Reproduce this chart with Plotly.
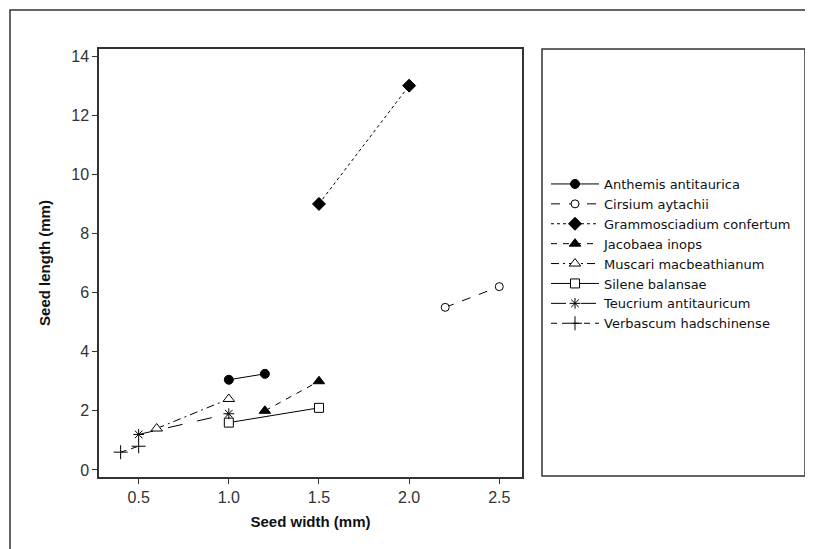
import plotly.graph_objects as go

species = ["Anthemis antitaurica", "Cirsium aytachii", "Grammosciadium confertum",
           "Jacobaea inops", "Muscari macbeathianum", "Silene balansae",
           "Teucrium antitauricum", "Verbascum hadschinense"]
widths = [[1.0, 1.2], [2.2, 2.5], [1.5, 2.0], [1.2, 1.5],
          [0.6, 1.0], [1.0, 1.5], [0.5, 1.0], [0.4, 0.5]]
lengths = [[3.05, 3.25], [5.5, 6.2], [9.0, 13.0], [2.0, 3.0],
           [1.4, 2.4], [1.6, 2.1], [1.2, 1.9], [0.6, 0.8]]
x_ticks = [0.5, 1.0, 1.5, 2.0, 2.5]
x_tick_labels = ["0.5", "1.0", "1.5", "2.0", "2.5"]
y_ticks = [0, 2, 4, 6, 8, 10, 12, 14]

symbols = ["circle", "circle", "diamond", "triangle-up", "triangle-up",
           "square", "asterisk-open", "cross-thin-open"]
fills = ["black", "white", "black", "black", "white", "white", "black", "black"]
dashes = ["solid", "dash", "3px,3px", "6px,6px", "8px,4px,2px,4px", "solid",
          "longdash", "6px,5px"]
sizes = [9, 8, 10, 10, 10, 9, 9, 10]

OFF = 8  # page body margin
W, H = 813 - OFF, 549 - OFF
L, R, T, B = 99 - OFF, 522 - OFF, 49 - OFF, 477 - OFF


def px(x):
    return (x - OFF - L) / (R - L)


def py(y):
    return (B - (y - OFF)) / (B - T)


fig = go.Figure()
for name, xs, ys, sym, fc, dash, sz in zip(species, widths, lengths, symbols, fills, dashes, sizes):
    fig.add_trace(go.Scatter(
        x=xs, y=ys, name=name, mode="lines+markers",
        line=dict(color="black", width=1, dash=dash),
        marker=dict(symbol=sym, size=sz, color=fc,
                    line=dict(color="black", width=1)),
    ))

fig.update_layout(
    width=W, height=H,
    margin=dict(l=L, r=W - R, t=T, b=H - B, pad=0),
    paper_bgcolor="white", plot_bgcolor="white",
    font=dict(family="Liberation Sans, Arial, sans-serif", color="#222"),
    showlegend=True,
    legend=dict(x=px(546), y=py(169), xanchor="left", yanchor="top",
                bgcolor="rgba(0,0,0,0)", borderwidth=0,
                font=dict(family="DejaVu Sans, sans-serif", size=13, color="#111"),
                tracegroupgap=0, itemwidth=48),
    xaxis=dict(range=[0.28, 2.626], tickvals=x_ticks, ticktext=x_tick_labels,
               showgrid=False, zeroline=False, showline=True, linecolor="#333",
               linewidth=1.5, mirror=True, ticks="outside", ticklen=5,
               tickcolor="#333", tickfont=dict(size=16, color="#333"),
               title=dict(text="<b>Seed width (mm)</b>", font=dict(size=15, color="#111"),
                          standoff=12)),
    yaxis=dict(range=[-0.24, 14.24], tickvals=y_ticks,
               showgrid=False, zeroline=False, showline=True, linecolor="#333",
               linewidth=1.5, mirror=True, ticks="outside", ticklen=5,
               tickcolor="#333", tickfont=dict(size=16, color="#333"),
               title=dict(text="<b>Seed length (mm)</b>", font=dict(size=15, color="#111"),
                          standoff=17)),
    shapes=[
        dict(type="rect", xref="paper", yref="paper",
             x0=px(10), x1=px(830), y0=py(10), y1=py(570),
             line=dict(color="#333", width=1.5), layer="below"),
        dict(type="rect", xref="paper", yref="paper",
             x0=px(542), x1=px(805), y0=py(476), y1=py(49),
             line=dict(color="#333", width=1.5), layer="below"),
    ],
)

fig.write_html("out.html")
